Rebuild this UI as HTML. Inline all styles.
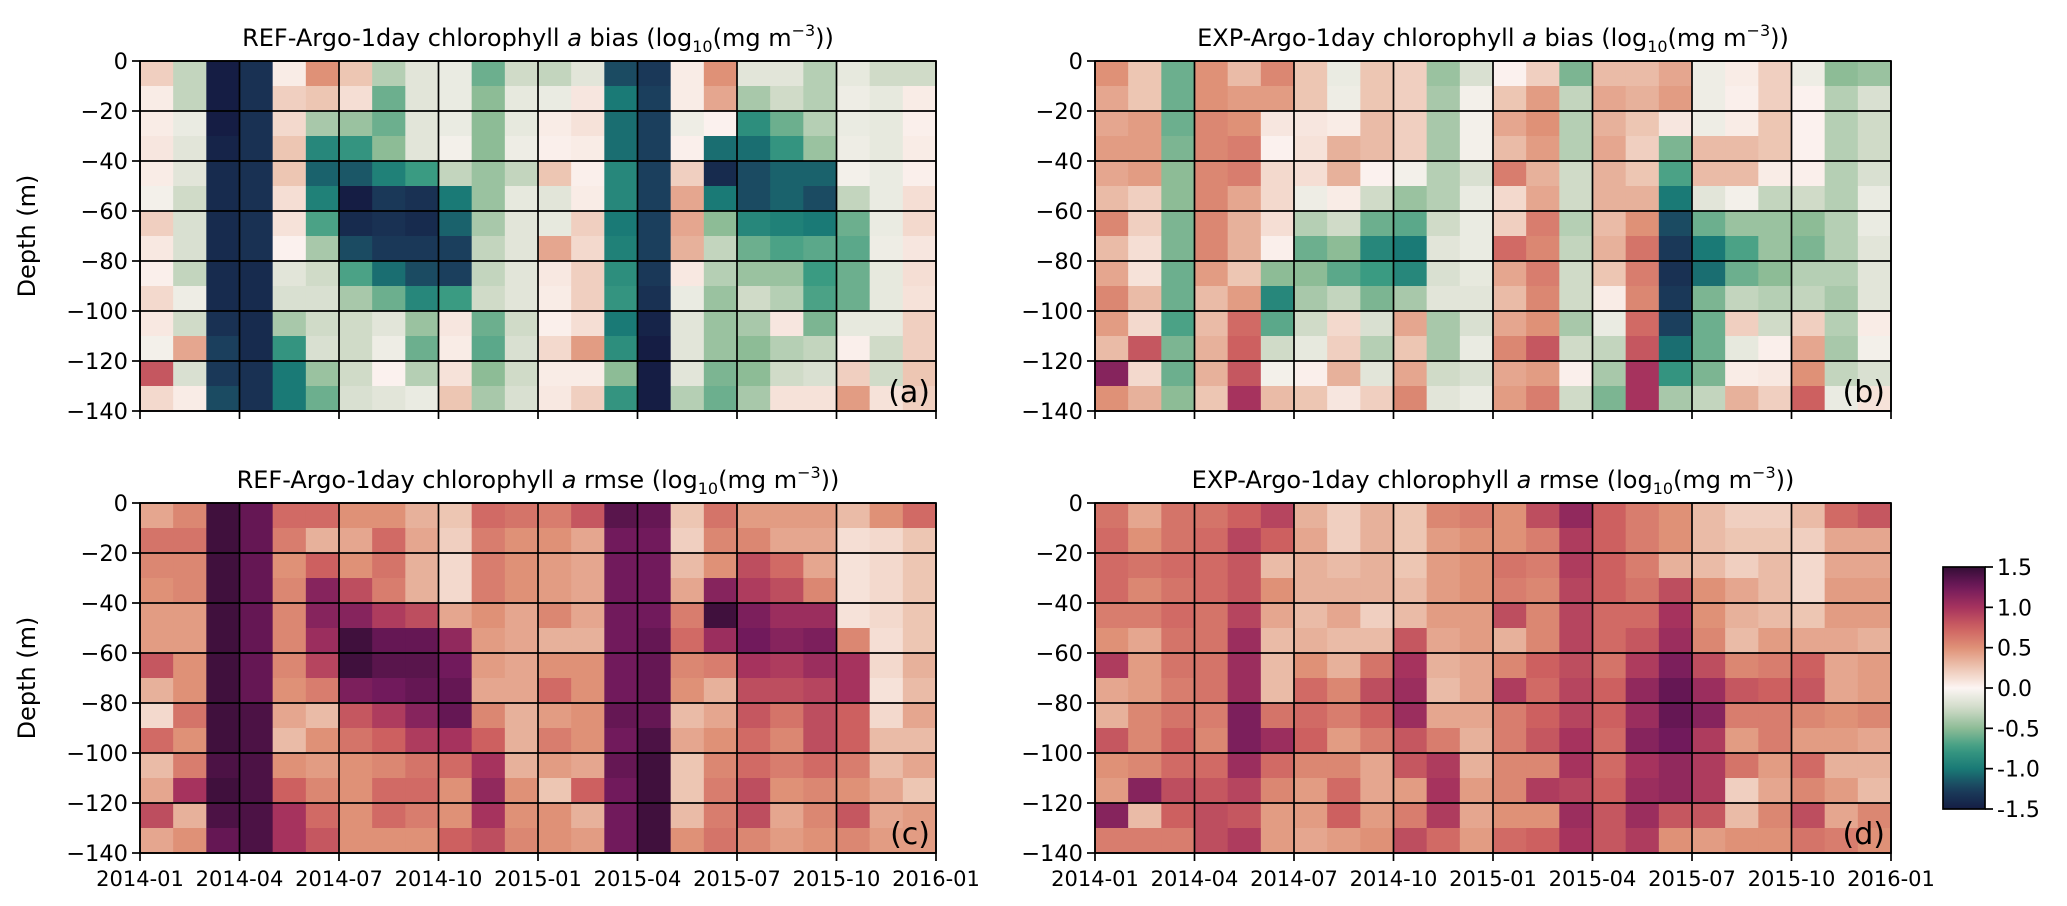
<!DOCTYPE html>
<html><head><meta charset="utf-8">
<style>
html,body{margin:0;padding:0;background:#fff;}
svg{display:block;font-family:"DejaVu Sans","Liberation Sans",sans-serif;}
</style></head>
<body>
<svg id="fig" width="2067" height="906" viewBox="0 0 2067 906" xmlns="http://www.w3.org/2000/svg"></svg>
<script>
const months = ["2014-01","2014-02","2014-03","2014-04","2014-05","2014-06","2014-07","2014-08","2014-09","2014-10","2014-11","2014-12","2015-01","2015-02","2015-03","2015-04","2015-05","2015-06","2015-07","2015-08","2015-09","2015-10","2015-11","2015-12"];
const depths = [0,-10,-20,-30,-40,-50,-60,-70,-80,-90,-100,-110,-120,-130];
const xTickLabels = ["2014-01","2014-04","2014-07","2014-10","2015-01","2015-04","2015-07","2015-10","2016-01"];
const yTickLabels = [0,-20,-40,-60,-80,-100,-120,-140];
const cbTicks = [1.5,1.0,0.5,0.0,-0.5,-1.0,-1.5];

const refBias = [
[0.2,-0.3,-1.5,-1.35,0.05,0.5,0.25,-0.35,-0.15,-0.1,-0.6,-0.25,-0.3,-0.15,-1.2,-1.3,0.05,0.5,-0.15,-0.15,-0.35,-0.12,-0.25,-0.25],
[0.05,-0.3,-1.5,-1.35,0.2,0.25,0.12,-0.6,-0.15,-0.1,-0.5,-0.12,-0.1,0.08,-1.0,-1.25,0.05,0.4,-0.4,-0.25,-0.35,-0.08,-0.12,0.05],
[0.05,-0.1,-1.5,-1.35,0.15,-0.4,-0.45,-0.6,-0.15,-0.1,-0.5,-0.12,0.05,0.1,-1.05,-1.25,-0.08,0.02,-0.85,-0.6,-0.35,-0.1,-0.12,0.03],
[0.08,-0.15,-1.45,-1.35,0.25,-0.9,-0.8,-0.5,-0.15,-0.05,-0.5,-0.08,0.03,0.05,-1.05,-1.25,0.03,-1.05,-1.05,-0.8,-0.45,-0.08,-0.12,0.05],
[0.05,-0.15,-1.4,-1.35,0.25,-1.1,-1.15,-0.95,-0.75,-0.3,-0.45,-0.3,0.25,0.03,-0.9,-1.25,0.2,-1.4,-1.2,-1.1,-1.1,-0.05,-0.1,0.03],
[-0.05,-0.25,-1.4,-1.35,0.12,-0.95,-1.5,-1.3,-1.35,-1.0,-0.45,-0.12,-0.15,0.05,-0.9,-1.25,0.4,-1.0,-1.2,-1.1,-1.2,-0.3,-0.1,0.12],
[0.2,-0.2,-1.4,-1.35,0.1,-0.7,-1.4,-1.35,-1.4,-1.1,-0.4,-0.15,-0.12,0.2,-1.0,-1.25,0.4,-0.5,-0.9,-0.95,-1.0,-0.6,-0.1,0.15],
[0.07,-0.2,-1.4,-1.35,0.02,-0.4,-1.2,-1.3,-1.3,-1.25,-0.3,-0.15,0.4,0.15,-0.95,-1.25,0.35,-0.3,-0.6,-0.7,-0.65,-0.65,-0.08,0.08],
[0.03,-0.3,-1.4,-1.4,-0.15,-0.25,-0.7,-1.05,-1.2,-1.25,-0.3,-0.15,0.07,0.2,-0.85,-1.3,0.07,-0.35,-0.45,-0.45,-0.75,-0.6,-0.12,0.12],
[0.15,-0.08,-1.4,-1.4,-0.2,-0.2,-0.4,-0.6,-0.9,-0.75,-0.25,-0.15,0.05,0.2,-0.8,-1.35,-0.1,-0.45,-0.25,-0.35,-0.7,-0.6,-0.12,0.1],
[0.07,-0.25,-1.35,-1.4,-0.4,-0.25,-0.25,-0.15,-0.45,0.08,-0.6,-0.25,0.03,0.12,-1.0,-1.45,-0.15,-0.45,-0.4,0.08,-0.55,-0.12,-0.12,0.2],
[-0.05,0.4,-1.25,-1.4,-0.8,-0.2,-0.25,-0.08,-0.6,0.05,-0.65,-0.2,0.15,0.45,-0.85,-1.5,-0.15,-0.45,-0.5,-0.35,-0.3,0.03,-0.25,0.2],
[0.8,-0.2,-1.3,-1.35,-1.0,-0.45,-0.25,0.02,-0.35,0.1,-0.5,-0.25,0.05,0.05,-0.5,-1.5,-0.15,-0.55,-0.5,-0.25,-0.2,0.2,-0.25,0.25],
[0.15,0.05,-1.2,-1.35,-1.0,-0.6,-0.2,-0.15,-0.1,0.25,-0.4,-0.2,0.07,0.2,-0.8,-1.5,-0.35,-0.6,-0.4,0.1,0.1,0.45,0.1,0.2]
];
const expBias = [
[0.5,0.25,-0.6,0.5,0.3,0.55,0.25,-0.1,0.25,0.2,-0.45,-0.2,0.02,0.2,-0.55,0.3,0.3,0.4,-0.08,0.05,0.2,-0.08,-0.5,-0.45],
[0.4,0.25,-0.6,0.5,0.45,0.45,0.25,-0.08,0.25,0.2,-0.4,-0.05,0.25,0.45,-0.3,0.4,0.35,0.45,-0.08,0.03,0.2,0.02,-0.35,-0.2],
[0.4,0.45,-0.6,0.55,0.5,0.08,0.08,0.05,0.3,0.2,-0.4,-0.05,0.4,0.5,-0.35,0.35,0.25,0.08,-0.08,0.05,0.25,0.02,-0.35,-0.25],
[0.45,0.45,-0.55,0.55,0.6,0.02,0.1,0.35,0.3,0.2,-0.4,-0.05,0.3,0.45,-0.35,0.4,0.2,-0.55,0.3,0.3,0.25,0.02,-0.35,-0.25],
[0.4,0.45,-0.5,0.55,0.6,0.15,0.12,0.35,0.02,-0.05,-0.35,-0.2,0.6,0.35,-0.25,0.35,0.25,-0.7,0.3,0.3,0.05,0.03,-0.35,-0.2],
[0.3,0.2,-0.5,0.55,0.4,0.15,-0.08,0.05,-0.25,-0.45,-0.35,-0.1,0.15,0.4,-0.25,0.35,0.35,-1.0,-0.15,-0.05,-0.3,-0.25,-0.35,-0.1],
[0.55,0.2,-0.55,0.55,0.35,0.12,-0.35,-0.25,-0.6,-0.65,-0.25,-0.1,0.2,0.6,-0.35,0.3,0.5,-1.2,-0.6,-0.45,-0.45,-0.5,-0.35,-0.1],
[0.3,0.12,-0.55,0.55,0.35,0.03,-0.6,-0.5,-0.9,-1.0,-0.15,-0.1,0.7,0.55,-0.3,0.35,0.65,-1.3,-1.0,-0.7,-0.45,-0.55,-0.35,-0.15],
[0.4,0.1,-0.6,0.45,0.25,-0.5,-0.5,-0.65,-0.75,-0.9,-0.2,-0.12,0.4,0.6,-0.25,0.25,0.6,-1.35,-1.05,-0.6,-0.5,-0.35,-0.35,-0.15],
[0.55,0.3,-0.6,0.3,0.45,-0.9,-0.4,-0.3,-0.55,-0.4,-0.15,-0.15,0.3,0.55,-0.25,0.05,0.55,-1.3,-0.55,-0.3,-0.35,-0.3,-0.4,-0.15],
[0.45,0.15,-0.7,0.3,0.7,-0.65,-0.25,0.15,-0.2,0.4,-0.4,-0.2,0.4,0.5,-0.4,-0.1,0.7,-1.25,-0.6,0.2,-0.25,0.2,-0.35,0.05],
[0.3,0.8,-0.55,0.35,0.75,-0.25,-0.12,0.2,-0.35,0.25,-0.4,-0.1,0.55,0.8,-0.25,-0.3,0.8,-1.05,-0.6,-0.12,0.03,0.4,-0.4,-0.05],
[1.15,0.15,-0.6,0.35,0.8,-0.05,0.03,0.35,-0.15,0.4,-0.25,-0.2,0.4,0.45,0.03,-0.4,1.0,-0.8,-0.55,0.05,0.07,0.5,-0.3,-0.2],
[0.5,0.35,-0.5,0.25,1.0,0.3,0.25,0.08,0.2,0.55,-0.15,-0.1,0.45,0.6,-0.25,-0.55,1.0,-0.4,-0.3,0.35,0.2,0.75,-0.1,0.1]
];
const refRmse = [
[0.4,0.55,1.45,1.3,0.7,0.7,0.5,0.5,0.35,0.25,0.7,0.65,0.6,0.8,1.35,1.3,0.25,0.65,0.45,0.45,0.45,0.3,0.5,0.7],
[0.65,0.65,1.45,1.3,0.6,0.35,0.4,0.7,0.4,0.2,0.6,0.5,0.5,0.4,1.25,1.25,0.2,0.55,0.55,0.4,0.4,0.12,0.15,0.25],
[0.55,0.55,1.45,1.3,0.5,0.75,0.5,0.65,0.35,0.15,0.6,0.5,0.45,0.4,1.25,1.25,0.3,0.5,0.85,0.7,0.4,0.1,0.15,0.25],
[0.5,0.55,1.45,1.3,0.55,1.15,0.85,0.6,0.35,0.15,0.6,0.5,0.45,0.4,1.25,1.25,0.4,1.15,0.95,0.85,0.55,0.1,0.15,0.25],
[0.45,0.45,1.45,1.3,0.55,1.15,1.15,0.95,0.85,0.4,0.5,0.4,0.55,0.4,1.25,1.25,0.6,1.45,1.2,1.05,1.05,0.1,0.15,0.25],
[0.45,0.45,1.45,1.3,0.55,1.05,1.45,1.3,1.3,1.1,0.45,0.4,0.35,0.35,1.25,1.3,0.7,1.05,1.25,1.15,1.2,0.55,0.12,0.25],
[0.8,0.5,1.45,1.3,0.55,0.9,1.45,1.35,1.35,1.25,0.45,0.4,0.5,0.5,1.25,1.3,0.55,0.6,1.0,0.95,1.05,1.0,0.15,0.35],
[0.35,0.5,1.45,1.3,0.5,0.6,1.2,1.25,1.3,1.3,0.4,0.4,0.7,0.5,1.25,1.3,0.5,0.35,0.85,0.85,0.9,1.0,0.1,0.3],
[0.15,0.65,1.45,1.4,0.4,0.3,0.8,0.95,1.15,1.3,0.55,0.35,0.45,0.5,1.3,1.3,0.3,0.4,0.8,0.65,0.85,0.75,0.15,0.4],
[0.7,0.5,1.45,1.4,0.3,0.5,0.65,0.75,0.95,1.0,0.75,0.35,0.6,0.5,1.25,1.4,0.4,0.5,0.7,0.55,0.85,0.75,0.3,0.3],
[0.3,0.6,1.4,1.4,0.5,0.45,0.5,0.55,0.65,0.7,1.0,0.35,0.45,0.4,1.3,1.45,0.25,0.55,0.7,0.6,0.7,0.6,0.3,0.4],
[0.4,1.0,1.45,1.4,0.75,0.55,0.5,0.7,0.7,0.5,1.1,0.5,0.25,0.75,1.25,1.45,0.25,0.6,0.85,0.5,0.55,0.5,0.4,0.25],
[0.85,0.35,1.4,1.4,1.0,0.7,0.5,0.7,0.6,0.5,1.0,0.5,0.5,0.35,1.25,1.45,0.3,0.6,0.85,0.4,0.55,0.8,0.4,0.45],
[0.4,0.5,1.3,1.4,1.0,0.8,0.5,0.5,0.5,0.75,0.85,0.55,0.5,0.45,1.25,1.45,0.5,0.65,0.55,0.45,0.5,0.55,0.45,0.45]
];
const expRmse = [
[0.65,0.4,0.65,0.65,0.75,0.9,0.35,0.2,0.35,0.25,0.55,0.6,0.5,0.85,1.1,0.75,0.6,0.5,0.3,0.2,0.2,0.3,0.7,0.8],
[0.7,0.5,0.65,0.7,0.9,0.75,0.4,0.2,0.35,0.25,0.45,0.5,0.5,0.6,0.95,0.75,0.6,0.5,0.3,0.25,0.25,0.2,0.4,0.4],
[0.7,0.65,0.7,0.7,0.8,0.3,0.35,0.3,0.35,0.25,0.45,0.5,0.65,0.6,0.95,0.75,0.6,0.35,0.3,0.2,0.3,0.15,0.4,0.4],
[0.7,0.55,0.65,0.7,0.8,0.5,0.35,0.35,0.35,0.3,0.45,0.5,0.6,0.55,0.9,0.75,0.65,0.85,0.5,0.4,0.3,0.15,0.45,0.45],
[0.6,0.6,0.7,0.65,0.9,0.4,0.3,0.4,0.2,0.3,0.45,0.45,0.85,0.55,0.9,0.7,0.7,1.0,0.5,0.35,0.3,0.25,0.45,0.45],
[0.5,0.4,0.65,0.65,1.05,0.3,0.35,0.3,0.3,0.8,0.4,0.45,0.35,0.55,0.9,0.7,0.8,1.05,0.55,0.3,0.45,0.4,0.4,0.35],
[0.95,0.45,0.65,0.65,1.05,0.3,0.5,0.35,0.65,1.0,0.35,0.4,0.55,0.75,0.85,0.65,0.95,1.2,0.85,0.55,0.6,0.75,0.4,0.45],
[0.4,0.45,0.6,0.65,1.05,0.3,0.7,0.55,0.85,1.05,0.3,0.4,0.95,0.7,0.9,0.75,1.1,1.3,1.05,0.8,0.75,0.8,0.4,0.45],
[0.35,0.55,0.65,0.6,1.2,0.65,0.7,0.6,0.75,1.05,0.4,0.4,0.6,0.75,0.9,0.75,1.05,1.3,1.15,0.6,0.6,0.55,0.5,0.55],
[0.8,0.55,0.75,0.55,1.2,1.05,0.75,0.45,0.6,0.8,0.6,0.35,0.6,0.8,1.0,0.7,1.15,1.25,0.95,0.45,0.6,0.45,0.45,0.4],
[0.5,0.55,0.7,0.7,1.05,0.7,0.55,0.55,0.4,0.8,0.95,0.35,0.55,0.55,1.0,0.7,1.0,1.1,0.95,0.65,0.45,0.7,0.35,0.35],
[0.45,1.15,0.85,0.8,0.9,0.55,0.45,0.7,0.4,0.45,1.0,0.45,0.55,0.95,0.9,0.75,1.05,1.1,0.95,0.2,0.4,0.55,0.45,0.3],
[1.15,0.3,0.75,0.85,0.8,0.45,0.45,0.75,0.45,0.6,0.95,0.4,0.5,0.5,1.05,0.8,1.05,0.8,0.8,0.3,0.55,0.85,0.4,0.55],
[0.6,0.6,0.6,0.85,0.95,0.45,0.4,0.45,0.5,0.85,0.7,0.45,0.7,0.75,1.0,0.8,0.95,0.5,0.45,0.5,0.5,0.65,0.6,0.5]
];

const cStops = [[-1.5,"#151d44"],[-1.25,"#1b3f5d"],[-1.0,"#1a7a76"],[-0.75,"#3a9b82"],[-0.5,"#8dbc96"],[-0.25,"#d0dbc8"],[0,"#fcf5f3"],[0.25,"#edc6b3"],[0.5,"#df9177"],[0.75,"#cd6060"],[1.0,"#a6335e"],[1.25,"#711a5c"],[1.5,"#340d35"]];
function hex(h){return [1,3,5].map(i=>parseInt(h.substr(i,2),16));}
function cmap(v){
  v=Math.max(-1.5,Math.min(1.5,v));
  for(let i=0;i<cStops.length-1;i++){
    const a=cStops[i],b=cStops[i+1];
    if(v<=b[0]){const t=(v-a[0])/(b[0]-a[0]);const A=hex(a[1]),B=hex(b[1]);
      return "rgb("+A.map((x,k)=>Math.round(x+(B[k]-x)*t)).join(",")+")";}
  }
  return cStops[cStops.length-1][1];
}
const NS="http://www.w3.org/2000/svg";
const svg=document.getElementById("fig");
function mk(tag,attrs,parent){const e=document.createElementNS(NS,tag);for(const k in attrs)e.setAttribute(k,attrs[k]);(parent||svg).appendChild(e);return e;}

const panels=[
 {data:refBias,x:140,y:61,title:"REF-Argo-1day chlorophyll ",kind:"bias",tag:"(a)",xl:false,name:"panel-a"},
 {data:expBias,x:1095,y:61,title:"EXP-Argo-1day chlorophyll ",kind:"bias",tag:"(b)",xl:false,name:"panel-b"},
 {data:refRmse,x:140,y:503,title:"REF-Argo-1day chlorophyll ",kind:"rmse",tag:"(c)",xl:true,name:"panel-c"},
 {data:expRmse,x:1095,y:503,title:"EXP-Argo-1day chlorophyll ",kind:"rmse",tag:"(d)",xl:true,name:"panel-d"}
];
const W=796,H=350;
panels.forEach(p=>{
  const g=mk("g",{});
  
  
  const xs=i=>p.x+i*W/months.length;
  const ys=d=>p.y+(-d)/140*H;
  p.data.forEach((row,r)=>row.forEach((v,c)=>{
    const rc=mk("rect",{x:xs(c).toFixed(2),y:ys(depths[r]).toFixed(2),width:(W/months.length+0.6).toFixed(2),height:(H/14+0.6).toFixed(2),fill:cmap(v)},g);
    
    
  }));
  xTickLabels.forEach((l,i)=>{const x=xs(i*3);
    mk("line",{x1:x,y1:p.y,x2:x,y2:p.y+H,stroke:"#000","stroke-width":1.7},g);
    mk("line",{x1:x,y1:p.y+H,x2:x,y2:p.y+H+8,stroke:"#000","stroke-width":1.7},g);
    if(p.xl){const t=mk("text",{x:x,y:p.y+H+33,"font-size":21,"text-anchor":"middle",fill:"#000"},g);t.textContent=l;
      
      }
  });
  yTickLabels.forEach(d=>{const y=ys(d);
    mk("line",{x1:p.x,y1:y,x2:p.x+W,y2:y,stroke:"#000","stroke-width":1.7},g);
    mk("line",{x1:p.x-8,y1:y,x2:p.x,y2:y,stroke:"#000","stroke-width":1.7},g);
    const t=mk("text",{x:p.x-12,y:y+8,"font-size":22.5,"text-anchor":"end",fill:"#000"},g);
    t.textContent=d<0?"\u2212"+(-d):String(d);
    
    
  });
  mk("rect",{x:p.x,y:p.y,width:W,height:H,fill:"none",stroke:"#000","stroke-width":1.7},g);
  const tt=mk("text",{x:p.x+W/2,y:p.y-15,"font-size":24,"text-anchor":"middle",fill:"#000"},g);
  
  
  tt.innerHTML=p.title+'<tspan font-style="italic">a</tspan> '+p.kind+' (log<tspan font-size="16" dy="6">10</tspan><tspan dy="-6">(mg m</tspan><tspan font-size="16" dy="-10">\u22123</tspan><tspan dy="10">))</tspan>';
  const tg=mk("text",{x:p.x+W-6,y:p.y+H-9,"font-size":30,"text-anchor":"end",fill:"#000"},g);
  tg.textContent=p.tag;
  
  
  if(p.x<500){
    const yl=mk("text",{x:0,y:0,"font-size":24,"text-anchor":"middle",fill:"#000",transform:"translate(35,"+(p.y+H/2)+") rotate(-90)"},g);
    yl.textContent="Depth (m)";
    
    
  }
});
const cb={x:1943,y:567,w:42,h:242};
const cbg=mk("g",{});


const defs=mk("defs",{});
const lg=mk("linearGradient",{id:"cbgrad",x1:0,y1:1,x2:0,y2:0},defs);
for(let i=0;i<=30;i++){const v=-1.5+i*0.1;mk("stop",{offset:(i/30).toFixed(3),"stop-color":cmap(v)},lg);}
mk("rect",{x:cb.x,y:cb.y,width:cb.w,height:cb.h,fill:"url(#cbgrad)",stroke:"#000","stroke-width":1.7},cbg);
cbTicks.forEach(v=>{const y=cb.y+(1.5-v)/3*cb.h;
  mk("line",{x1:cb.x+cb.w,y1:y,x2:cb.x+cb.w+8,y2:y,stroke:"#000","stroke-width":1.7},cbg);
  const t=mk("text",{x:cb.x+cb.w+12,y:y+8,"font-size":22,fill:"#000"},cbg);
  t.textContent=v.toFixed(1);
  
  
});
</script>
</body></html>
